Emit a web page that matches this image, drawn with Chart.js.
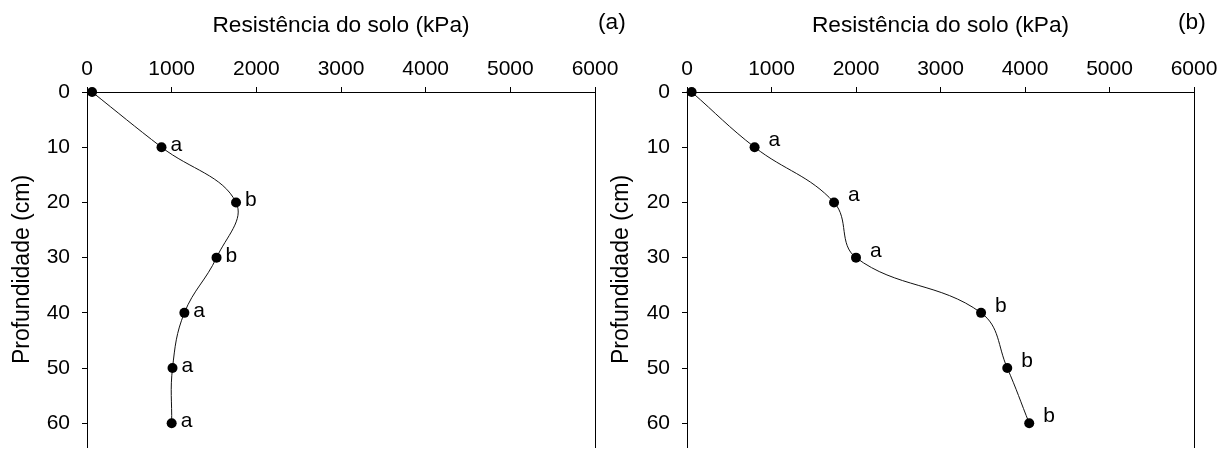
<!DOCTYPE html>
<html>
<head>
<meta charset="utf-8">
<script src="https://cdn.jsdelivr.net/npm/chart.js@4.4.1/dist/chart.umd.min.js"></script>
<style>
  body { margin: 0; background: #fff; }
  #wrap { position: relative; width: 1222px; height: 452px; overflow: hidden; }
  canvas { position: absolute; top: 0; }
</style>
</head>
<body>
<div id="wrap">
  <canvas id="chartA" width="640" height="452" style="left:0;width:640px;height:452px"></canvas>
  <canvas id="chartB" width="622" height="452" style="left:600px;width:622px;height:452px"></canvas>
</div>
<script>
const FONT = "'Liberation Sans', Arial, sans-serif";

// axis ticks
const resistTicks = [0, 1000, 2000, 3000, 4000, 5000, 6000];
const depthTicks = [0, 10, 20, 30, 40, 50, 60];

// depth (cm) and soil resistance (kPa) for each panel
const depth = [0, 10, 20, 30, 40, 50, 60];
const resistA = [60, 880, 1760, 1530, 1150, 1010, 1000];
const resistB = [55, 800, 1740, 2000, 3480, 3790, 4050];

// significance letters next to each point
const lettersA = ['', 'a', 'b', 'b', 'a', 'a', 'a'];
const lettersB = ['', 'a', 'a', 'a', 'b', 'b', 'b'];

const letterPlugin = {
  id: 'letters',
  afterDatasetsDraw(chart, args, o) {
    const ctx = chart.ctx;
    const pts = chart.getDatasetMeta(0).data;
    ctx.save();
    ctx.fillStyle = '#000';
    ctx.font = '21px ' + FONT;
    ctx.textAlign = 'left';
    ctx.textBaseline = 'alphabetic';
    o.letters.forEach((l, i) => {
      if (l) ctx.fillText(l, pts[i].x + o.dx, pts[i].y + o.dy);
    });
    // panel tag, (a) / (b)
    ctx.font = '22.7px ' + FONT;
    ctx.textBaseline = 'middle';
    ctx.fillText(o.tag, chart.chartArea.right + o.tagDx, 23);
    ctx.restore();
  }
};

// keep the plot box fixed: no extra room for overhanging tick labels
function noPadding(s) {
  s.paddingLeft = 0;
  s.paddingRight = 0;
  s.paddingTop = 0;
  s.paddingBottom = 0;
}

function makeChart(id, values, letters, opt) {
  return new Chart(document.getElementById(id), {
    type: 'line',
    data: {
      datasets: [{
        data: depth.map((d, i) => ({ x: values[i], y: d })),
        borderColor: '#111',
        borderWidth: 1,
        tension: 0.4,
        fill: false,
        clip: false,
        pointRadius: 5,
        pointBackgroundColor: '#000',
        pointBorderColor: '#000',
        pointBorderWidth: 0,
        xAxisID: 'x',
        yAxisID: 'y'
      }]
    },
    options: {
      responsive: false,
      animation: false,
      layout: { padding: { left: 0, top: 0, right: opt.padRight, bottom: 0 } },
      plugins: {
        legend: { display: false },
        tooltip: { enabled: false },
        letters: { letters: letters, dx: opt.dx, dy: opt.dy, tag: opt.tag, tagDx: opt.tagDx }
      },
      scales: {
        x: {
          type: 'linear',
          position: 'top',
          min: 0,
          max: 6000,
          afterBuildTicks: s => { s.ticks = resistTicks.map(v => ({ value: v })); },
          afterFit: s => { s.height = 92; noPadding(s); },
          grid: { drawOnChartArea: false, tickLength: 5, color: '#000' },
          border: { color: '#000', width: 1 },
          ticks: {
            font: { family: FONT, size: 21 }, color: '#000', padding: 5,
            maxRotation: 0, autoSkip: false, callback: v => String(v)
          },
          title: {
            display: true,
            text: 'Resistência do solo (kPa)',
            font: { family: FONT, size: 22.7 },
            color: '#000',
            padding: { top: 12, bottom: 0 }
          }
        },
        y: {
          type: 'linear',
          position: 'left',
          reverse: true,
          min: 0,
          max: 64.3,
          afterBuildTicks: s => { s.ticks = depthTicks.map(v => ({ value: v })); },
          afterFit: s => { s.width = 87; noPadding(s); },
          grid: { drawOnChartArea: false, tickLength: 5, color: '#000' },
          border: { color: '#000', width: 1 },
          ticks: { font: { family: FONT, size: 21 }, color: '#000', padding: 12, callback: v => String(v) },
          title: {
            display: true,
            text: 'Profundidade (cm)',
            font: { family: FONT, size: 23 },
            color: '#000',
            padding: { top: opt.yTitlePad, bottom: 0 }
          }
        },
        // right-hand frame line
        yR: {
          type: 'linear',
          position: 'right',
          reverse: true,
          min: 0,
          max: 64.3,
          afterFit: s => { s.width = 0; noPadding(s); },
          grid: { drawOnChartArea: false, drawTicks: false },
          border: { display: true, color: '#000', width: 1 },
          ticks: { display: false }
        }
      }
    },
    plugins: [letterPlugin]
  });
}

makeChart('chartA', resistA, lettersA, { padRight: 45, dx: 9, dy: 4, tag: '(a)', tagDx: 3, yTitlePad: 9 });
makeChart('chartB', resistB, lettersB, { padRight: 28, dx: 14, dy: -1, tag: '(b)', tagDx: -16, yTitlePad: 8 });
</script>
</body>
</html>
